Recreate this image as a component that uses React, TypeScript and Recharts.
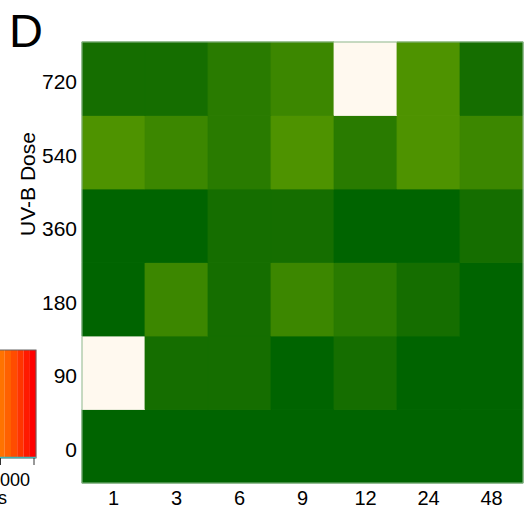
import React from 'react';
import { BarChart, Bar, XAxis, YAxis, Cell } from 'recharts';

// Exposure times (columns) and UV-B doses (rows, bottom to top)
const times = ['1', '3', '6', '9', '12', '24', '48'];
const doses = ['0', '90', '180', '360', '540', '720'];

// Colour level for each cell (0 = darkest green, 4 = lightest green, null = missing)
const dose0 = [0, 0, 0, 0, 0, 0, 0];
const dose90 = [null, 1, 1, 0, 1, 0, 0];
const dose180 = [0, 3, 1, 3, 2, 1, 0];
const dose360 = [0, 0, 1, 1, 0, 0, 1];
const dose540 = [4, 3, 2, 4, 2, 4, 3];
const dose720 = [1, 1, 2, 3, null, 4, 1];

const rows = [dose0, dose90, dose180, dose360, dose540, dose720];

const levelColors = ['#006400', '#156E00', '#297B00', '#3C8700', '#4E9300'];
const missingColor = '#FFF9EF';

// legend stripes (orange -> red)
const legendStripes = ['#FF7F00', '#FF7300', '#FF6100', '#FF4C00', '#FF3500', '#FF1A00', '#FF0000'];

const data = times.map((t) => {
  const row: Record<string, any> = { time: t };
  doses.forEach((_, r) => {
    row['d' + r] = 1;
  });
  return row;
});

const FONT = '"Liberation Sans", Arial, sans-serif';

const XTick = (props: any) => {
  const { x, y, payload } = props;
  return (
    <text x={x} y={y} dy={22} textAnchor="middle" fontFamily={FONT} fontSize={20} fill="#000">
      {payload.value}
    </text>
  );
};

const YTick = (props: any) => {
  const { x, y, payload } = props;
  const idx = Math.round(payload.value - 0.5);
  return (
    <text x={x} y={y} dy={10.5} textAnchor="end" fontFamily={FONT} fontSize={21} fill="#000">
      {doses[idx]}
    </text>
  );
};

export default function App() {
  return (
    <div style={{ position: 'absolute', left: 0, top: 0, width: 532, height: 518, background: '#fff', overflow: 'hidden' }}>
      <svg width={532} height={518} style={{ position: 'absolute', left: 0, top: 0 }}>
        {legendStripes.map((c, i) => (
          <rect key={i} x={-8 + i * 6.3} y={350} width={6.4} height={108} fill={c} />
        ))}
        <rect x={-10} y={350} width={46} height={108} fill="none" stroke="#666" strokeWidth={1} />
        <line x1={-10} x2={36} y1={457.5} y2={457.5} stroke="#3FB3B3" strokeWidth={1.5} />
        <line x1={0.5} x2={0.5} y1={458} y2={465} stroke="#333" strokeWidth={1} />
        <line x1={34} x2={34} y1={458} y2={465} stroke="#333" strokeWidth={1} />
        <text x={0} y={486} fontFamily={FONT} fontSize={18} fill="#000">000</text>
        <text x={7} y={504} textAnchor="end" fontFamily={FONT} fontSize={18} fill="#000">s</text>
        <text x={9} y={46.7} fontFamily={FONT} fontSize={47} fill="#000">D</text>
        <text
          transform="translate(35,184) rotate(-90)"
          textAnchor="middle"
          fontFamily={FONT}
          fontSize={21}
          fill="#000"
        >
          UV-B Dose
        </text>
      </svg>
      <div style={{ position: 'absolute', left: 0, top: 0 }}>
        <BarChart
          width={532}
          height={518}
          data={data}
          margin={{ top: 42, right: 9, left: 0, bottom: 0 }}
          barCategoryGap={0}
          barGap={0}
        >
          <XAxis
            dataKey="time"
            axisLine={false}
            tickLine={false}
            tickSize={0}
            tickMargin={0}
            height={35}
            tick={<XTick />}
            interval={0}
          />
          <YAxis
            type="number"
            domain={[0, 6]}
            ticks={[0.5, 1.5, 2.5, 3.5, 4.5, 5.5]}
            axisLine={false}
            tickLine={false}
            tickSize={0}
            tickMargin={5}
            width={82}
            tick={<YTick />}
            interval={0}
          />
          {doses.map((d, r) => (
            <Bar key={d} dataKey={'d' + r} stackId="a" isAnimationActive={false}>
              {times.map((t, i) => {
                const lv = rows[r][i];
                const c = lv === null ? missingColor : levelColors[lv];
                return <Cell key={t} fill={c} stroke={c} strokeWidth={0.8} />;
              })}
            </Bar>
          ))}
        </BarChart>
      </div>
      <svg width={532} height={518} style={{ position: 'absolute', left: 0, top: 0, pointerEvents: 'none' }}>
        <rect x={82} y={42} width={441} height={441} fill="none" stroke="#8DB88D" strokeWidth={1} />
      </svg>
    </div>
  );
}
